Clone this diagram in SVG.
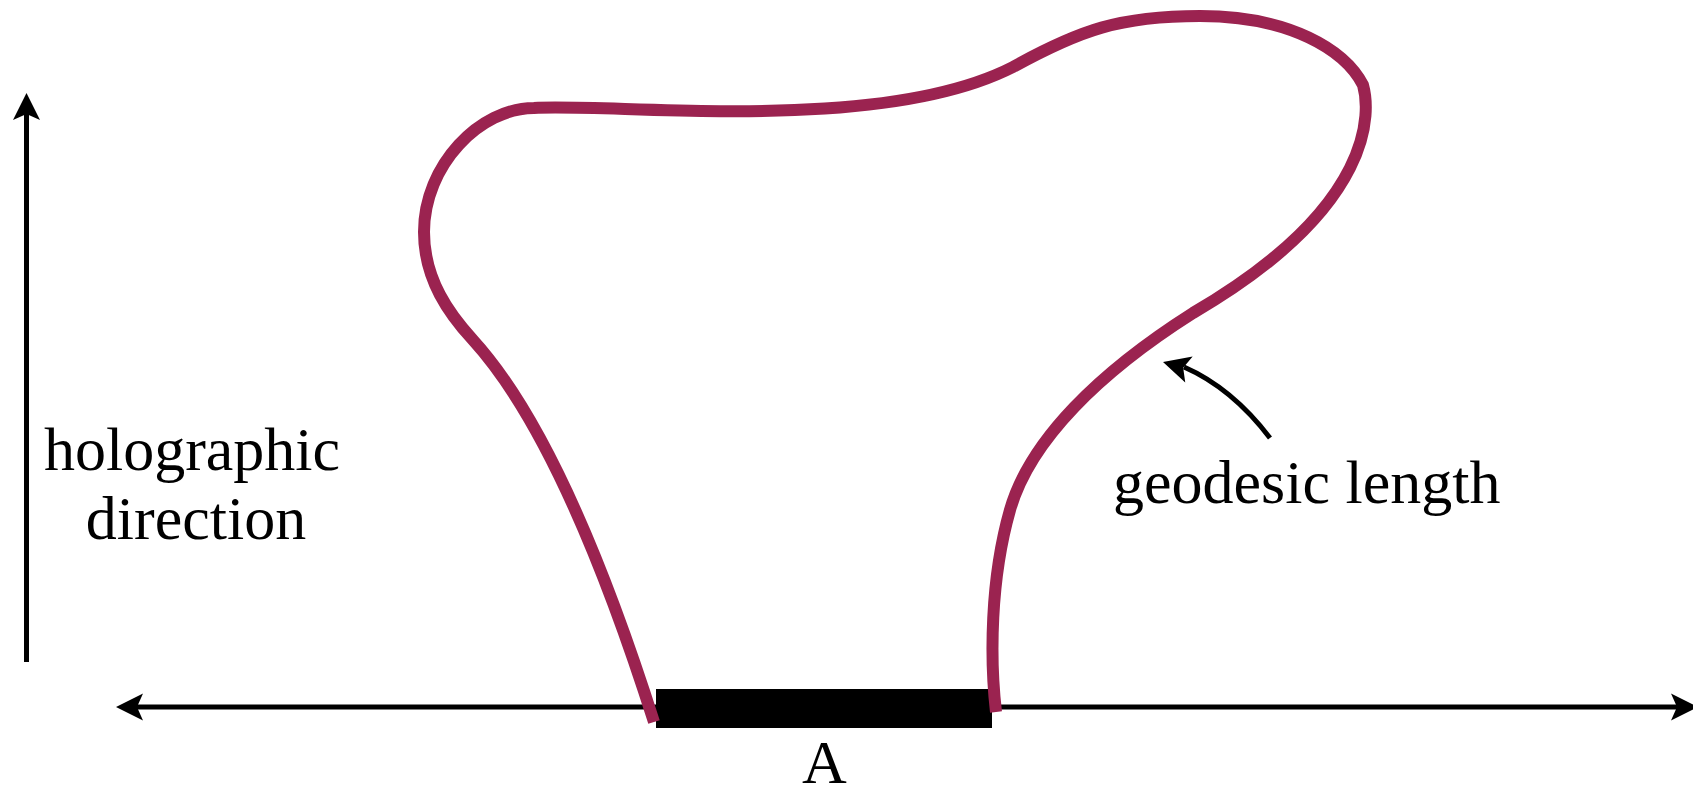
<svg xmlns="http://www.w3.org/2000/svg" width="1693" height="791" viewBox="0 0 1693 791">
  <style>
    .axis { stroke: #000; stroke-width: 5; fill: none; }
    .head { fill: #000; stroke: none; }
    .curve { stroke: #9b2350; stroke-width: 12; fill: none; stroke-linecap: butt; stroke-linejoin: round; }
    .label { font-family: "Liberation Serif", "Times New Roman", serif; font-size: 62px; fill: #000; }
  </style>
  <defs>
    <path id="head" d="M0,0 L-27,-13.5 L-21,0 L-27,13.5 Z"/>
  </defs>
  <rect width="1693" height="791" fill="#fff"/>
  <g id="connectors">
    <g id="vertical-axis">
      <path class="axis" d="M26.5,662 L26.5,110"/>
      <use href="#head" class="head" transform="translate(26.5,93) rotate(-90)"/>
    </g>
    <g id="horizontal-axis">
      <path class="axis" d="M134,707 L1680,707"/>
      <use href="#head" class="head" transform="translate(116,707) rotate(180)"/>
      <use href="#head" class="head" transform="translate(1698,707)"/>
    </g>
    <g id="geodesic-pointer">
      <path class="axis" d="M1270,438 Q1232,388 1184,367"/>
      <use href="#head" class="head" transform="translate(1163,362) rotate(196)"/>
    </g>
  </g>
  <g id="region-A">
    <rect x="656" y="689" width="336" height="39" fill="#000"/>
    <text class="label" x="824.5" y="783" text-anchor="middle">A</text>
  </g>
  <g id="geodesic">
    <path class="curve" d="M654,722 C620,615 555,430 473,340 C450,315 424,280 424,232 C424,165 480,108 534,108 C620,103 880,135 1013,67 C1080,30 1120,16 1200,16 C1290,16 1345,50 1363,85 C1370,110 1378,205 1193,313 C1100,372 1030,440 1010,510 C990,580 990,660 996,712"/>
  </g>
  <g id="label-holographic">
    <text class="label" x="192" y="470" text-anchor="middle">holographic</text>
    <text class="label" x="196" y="539" text-anchor="middle">direction</text>
  </g>
  <g id="label-geodesic">
    <text class="label" x="1113" y="503">geodesic length</text>
  </g>
</svg>
